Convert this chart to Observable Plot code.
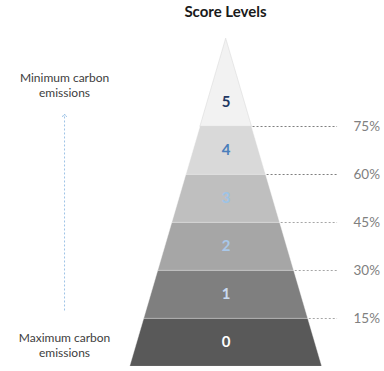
<!DOCTYPE html>
<html>
<head>
<meta charset="utf-8">
<script src="https://cdn.jsdelivr.net/npm/d3@7"></script>
<script src="https://cdn.jsdelivr.net/npm/@observablehq/plot@0.6"></script>
<style>
  html, body { margin: 0; padding: 0; background: #fff; }
  #title { width: 384px; height: 28px; line-height: 28px; box-sizing: border-box; padding-left: 67px;
           text-align: center; font: bold 15px Lato, sans-serif; color: #1a1a1a;
           position: relative; top: 2px; }
  #chart svg { display: block; }
</style>
</head>
<body>
<div id="title"></div>
<div id="chart"></div>
<script>
// ---- data ----
const title = "Score Levels";
const levels = [0, 1, 2, 3, 4, 5];
const thresholds = [15, 30, 45, 60, 75];           // boundary above level 0..4
const thresholdLabels = ["15%", "30%", "45%", "60%", "75%"];
const topLabel = "Minimum carbon\nemissions";
const bottomLabel = "Maximum carbon\nemissions";

// ---- styling / geometry ----
const bandFill = ["#595959", "#7f7f7f", "#a6a6a6", "#bfbfbf", "#d9d9d9", "#f2f2f2"];
const labelFill = ["#ffffff", "#c9daf0", "#a9c8ea", "#9dc3e6", "#4a7ebb", "#1f3864"];
const APEX = 6.83;                     // apex height in level units
const halfW = k => Math.max(0, 1 - k / APEX);

document.getElementById("title").textContent = title;

const bandRows = levels.flatMap(l => {
  const top = l === levels.length - 1 ? APEX : l + 1;
  return [
    {level: l, y: l, x1: -halfW(l), x2: halfW(l)},
    {level: l, y: top, x1: -halfW(top), x2: halfW(top)}
  ];
});
const thresholdRows = thresholds.map((t, i) => ({t, label: thresholdLabels[i], level: i + 1}));

const chart = Plot.plot({
  width: 384,
  height: 343,
  marginTop: 0, marginRight: 0, marginLeft: 0, marginBottom: 5,
  x: {domain: [-2.351, 1.649], axis: null},
  y: {domain: [0, 338 / 48], axis: null},
  color: {type: "identity"},
  style: {fontFamily: "Lato, sans-serif", background: "white"},
  marks: [
    Plot.ruleY(thresholdRows, {
      y: "level", x1: d => halfW(d.level) - 0.03, x2: 1.16,
      stroke: d => d.t >= 60 ? "#7f7f7f" : "#a6a6a6",
      strokeDasharray: "2,2", strokeWidth: 1
    }),
    Plot.areaX(bandRows, {
      y: "y", x1: "x1", x2: "x2", z: "level",
      fill: d => bandFill[d.level],
      stroke: d => d.level === 5 ? "#d0d0d0" : "#ffffff",
      strokeWidth: 0.6, strokeOpacity: 0.7
    }),
    Plot.text(levels, {
      x: 0, y: d => d + 0.5, text: d => String(d),
      fill: d => labelFill[d], fontSize: 15, fontWeight: "bold"
    }),
    Plot.text(thresholdRows, {
      x: 1.326, y: "level", text: "label", textAnchor: "start",
      fill: "#808080", fontSize: 13.5
    }),
    Plot.text([topLabel], {
      x: -1.684, y: 5.865, text: d => d, fill: "#404040", fontSize: 12, lineHeight: 1.25
    }),
    Plot.text([bottomLabel], {
      x: -1.684, y: 0.448, text: d => d, fill: "#404040", fontSize: 12, lineHeight: 1.25
    }),
    Plot.link([null], {
      x1: -1.684, x2: -1.684, y1: 1.167, y2: 5.23,
      stroke: "#9dc3e6", strokeWidth: 1, strokeDasharray: "2,2", markerEnd: "arrow"
    })
  ]
});
document.getElementById("chart").append(chart);
</script>
</body>
</html>
